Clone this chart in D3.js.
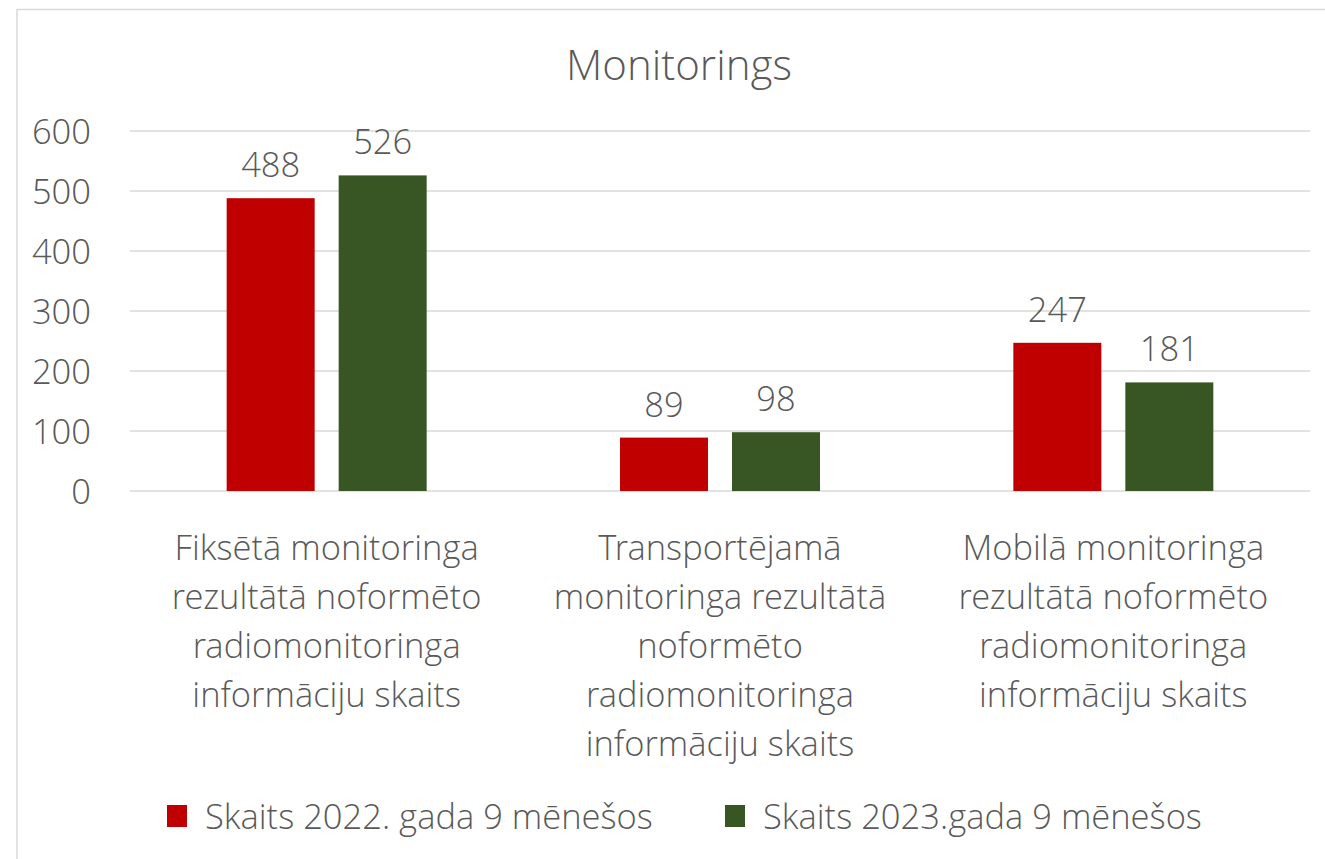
<!DOCTYPE html>
<html><head><meta charset="utf-8">
<script src="https://cdn.jsdelivr.net/npm/d3@7"></script>
<style>
html,body{margin:0;padding:0;background:#fff;}
svg{display:block;}
text{font-family:"Open Sans Light","Open Sans","Noto Sans",sans-serif;font-weight:300;fill:#595959;}
</style></head>
<body><svg id="c" width="1325" height="859"></svg>
<script>
const title = "Monitorings";
const categories = [
  ["Fiksētā monitoringa","rezultātā noformēto","radiomonitoringa","informāciju skaits"],
  ["Transportējamā","monitoringa rezultātā","noformēto","radiomonitoringa","informāciju skaits"],
  ["Mobilā monitoringa","rezultātā noformēto","radiomonitoringa","informāciju skaits"]
];
const seriesNames = ["Skaits 2022. gada 9 mēnešos","Skaits 2023.gada 9 mēnešos"];
const values2022 = [488, 89, 247];
const values2023 = [526, 98, 181];
const yTicks = [0,100,200,300,400,500,600];
const colors = ["#C00000","#375623"];

const FS = 34.5;
const svg = d3.select("#c");
svg.append("rect").attr("x",17).attr("y",9.5).attr("width",1330).attr("height",870)
  .attr("fill","#fff").attr("stroke","#d9d9d9").attr("stroke-width",1.5);

const x = d3.scaleBand().domain(d3.range(categories.length)).range([130,1310]);
const y = d3.scaleLinear().domain([0,600]).range([491,131]);
const inner = d3.scaleBand().domain([0,1]).range([0,200]).paddingInner(24/112);

svg.append("text").attr("x",679).attr("y",80).attr("text-anchor","middle")
  .style("font-size","42px").text(title);

// gridlines
svg.append("g").selectAll("line").data(yTicks).join("line")
  .attr("x1",130).attr("x2",1310).attr("y1",d=>y(d)).attr("y2",d=>y(d))
  .attr("stroke","#d9d9d9").attr("stroke-width",1.5);

// y axis labels
const yAxis = d3.axisLeft(y).tickValues(yTicks).tickSize(0).tickPadding(0);
const yg = svg.append("g").attr("transform","translate(91,0)").call(yAxis);
yg.select(".domain").remove();
yg.selectAll("text").style("font-size",FS+"px").style("font-family",null).attr("fill","#595959").attr("dy","0.35em");
yg.attr("font-family",null);

const series = [values2022, values2023];
series.forEach((vals,si)=>{
  const g = svg.append("g");
  g.selectAll("rect").data(vals).join("rect")
    .attr("x",(d,i)=>x(i)+x.bandwidth()/2-100+inner(si))
    .attr("width",inner.bandwidth())
    .attr("y",d=>y(d)).attr("height",d=>y(0)-y(d))
    .attr("fill",colors[si]);
  g.selectAll("text").data(vals).join("text")
    .attr("x",(d,i)=>x(i)+x.bandwidth()/2-100+inner(si)+inner.bandwidth()/2)
    .attr("y",d=>y(d)-21).attr("text-anchor","middle")
    .style("font-size",FS+"px").text(d=>d);
});

// category labels
const cg = svg.append("g");
categories.forEach((lines,i)=>{
  const t = cg.append("text").attr("text-anchor","middle").style("font-size",FS+"px");
  lines.forEach((ln,k)=>{
    t.append("tspan").attr("x",x(i)+x.bandwidth()/2).attr("y",560+k*49).text(ln);
  });
});

// legend
const legX = [167,725];
seriesNames.forEach((n,i)=>{
  svg.append("rect").attr("x",legX[i]).attr("y",805).attr("width",20).attr("height",22).attr("fill",colors[i]);
  svg.append("text").attr("x",legX[i]+38).attr("y",829).style("font-size",FS+"px").text(n);
});
</script></body></html>
